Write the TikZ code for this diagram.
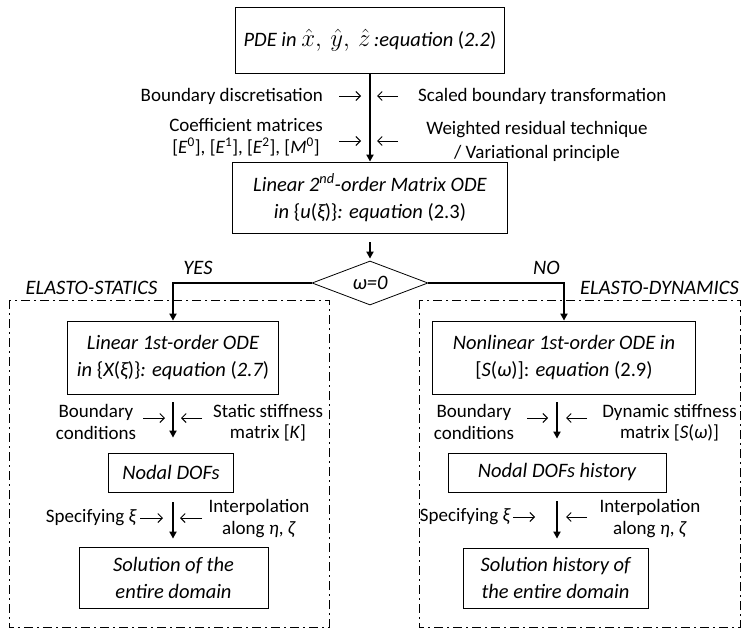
\documentclass[tikz,border=0pt]{standalone}
\usepackage{fontspec}
\setmainfont{Carlito}
\usetikzlibrary{shapes.geometric,arrows.meta}
\tikzset{
  x=1pt, y=-1pt,
  box/.style={draw, line width=0.8pt, inner sep=0pt, align=center,
    font=\fontsize{20.5}{27}\selectfont\itshape},
  lbl/.style={inner sep=0pt, align=center, font=\fontsize{19}{21.5}\selectfont},
  itlbl/.style={inner sep=0pt, font=\fontsize{20.5}{24}\selectfont\itshape},
  flow/.style={line width=2pt, -{Triangle[length=7pt,width=7pt]}},
  thinarrow/.style={line width=1pt, -{Straight Barb[length=4.5pt,width=9pt]}},
  region/.style={line width=1pt, dash pattern=on 9pt off 4pt on 2pt off 4pt},
}
\newcommand{\up}[1]{{\upshape #1}}
\begin{document}
\begin{tikzpicture}
\useasboundingbox (0,0) rectangle (745,629);

% frames
\draw[region] (9,300) rectangle (329,627);
\draw[region] (419,300) rectangle (740,627);

% main boxes
\node[box, minimum width=269pt, minimum height=66pt] (pde) at (370,40)
  {PDE in {\fontsize{24}{24}\selectfont$\hat{x},\,\hat{y},\,\hat{z}$}\,:equation \up{(}2.2\up{)}};
\node[box, minimum width=275pt, minimum height=71pt] (ode2) at (370,197.5)
  {Linear 2\textsuperscript{nd}-order Matrix ODE\\in \up{\{}u\up{(}ξ\up{)\}}: equation \up{(2.3)}};
\node[draw, diamond, line width=0.8pt, minimum width=116pt, minimum height=44pt, inner sep=0pt] (dec) at (370,283) {};
\node[itlbl] (declbl) at (dec) {ω=0};

% left column
\node[box, minimum width=211pt, minimum height=73pt] (lb1) at (173,357.5)
  {Linear 1st-order ODE\\in \up{\{}X\up{(}ξ\up{)\}}: equation \up{(}2.7\up{)}};
\node[box, minimum width=125pt, minimum height=39pt] (ln) at (171,472.5) {Nodal DOFs};
\node[box, minimum width=189pt, minimum height=61pt] (ls) at (173.5,577.5) {Solution of the\\entire domain};

% right column
\node[box, minimum width=263pt, minimum height=73pt] (rb1) at (564,357.5)
  {Nonlinear 1st-order ODE in\\\up{[}S\up{(}ω\up{)]:} equation \up{(2.9)}};
\node[box, minimum width=218pt, minimum height=39pt] (rn) at (557,472.5) {Nodal DOFs history};
\node[box, minimum width=185pt, minimum height=60pt] (rs) at (555.5,578) {Solution history of\\the entire domain};

% main connectors
\draw[flow] (pde) -- (ode2);
\draw[flow, shorten <=9pt, shorten >=2pt] (ode2.south) -- (dec.north);
\draw[flow] (dec.west) -| (lb1.north);
\draw[flow] (dec.east) -| (rb1.north);
\draw[flow, shorten <=8pt, shorten >=15pt] (lb1.south) -- (lb1.south |- ln.north);
\draw[flow, shorten <=10pt, shorten >=8pt] (lb1.south |- ln.south) -- (lb1.south |- ls.north);
\draw[flow, shorten <=8pt, shorten >=14pt] (rb1.south -| rn.north) -- (rn.north);
\draw[flow, shorten <=9pt, shorten >=9pt] (rn.south) -- (rn.south |- rs.north);

% branch labels
\node[itlbl] (yes) at (198,268) {YES};
\node[itlbl] (no) at (546.5,268) {NO};
\node[itlbl] (stat) at (91.5,288) {ELASTO-STATICS};
\node[itlbl] (dyn) at (659.5,288) {ELASTO-DYNAMICS};

% top side labels
\node[lbl, anchor=east] (bd) at (323,96) {Boundary discretisation};
\node[lbl, anchor=west] (sbt) at (418,96) {Scaled boundary transformation};
\node[lbl] (cm) at (246,137) {Coefficient matrices\\{}[\textit{E}\textsuperscript{0}], [\textit{E}\textsuperscript{1}], [\textit{E}\textsuperscript{2}], [\textit{M}\textsuperscript{0}]};
\node[lbl, font=\fontsize{19}{24}\selectfont] (wrt) at (537,141) {Weighted residual technique\\/ Variational principle};
\coordinate (a1s) at (339,96); \coordinate (a1e) at (361,96);
\coordinate (a2s) at (398,96); \coordinate (a2e) at (377,96);
\coordinate (a3s) at (339,141); \coordinate (a3e) at (361,141);
\coordinate (a4s) at (398,141); \coordinate (a4e) at (377,141);
\draw[thinarrow] (a1s) -- (a1e);
\draw[thinarrow] (a2s) -- (a2e);
\draw[thinarrow] (a3s) -- (a3e);
\draw[thinarrow] (a4s) -- (a4e);

% left column labels
\node[lbl] (lbc) at (96,422) {Boundary\\conditions};
\node[lbl] (lss) at (268,422.5) {Static stiffness\\matrix [\textit{K}]};
\node[lbl, anchor=east] (lsp) at (137,518) {Specifying \textit{ξ}};
\node[lbl] (lip) at (259,518.5) {Interpolation\\along \textit{η}, \textit{ζ}};
\coordinate (b1s) at (143,418); \coordinate (b1e) at (165,418);
\coordinate (b2s) at (202,418); \coordinate (b2e) at (181,418);
\coordinate (b3s) at (140,518); \coordinate (b3e) at (163,518);
\coordinate (b4s) at (202,518); \coordinate (b4e) at (180,518);
\draw[thinarrow] (b1s) -- (b1e);
\draw[thinarrow] (b2s) -- (b2e);
\draw[thinarrow] (b3s) -- (b3e);
\draw[thinarrow] (b4s) -- (b4e);

% right column labels
\node[lbl] (rbc) at (474,422) {Boundary\\conditions};
\node[lbl] (rds) at (669.5,422.5) {Dynamic stiffness\\matrix [\textit{S}(\textit{ω})]};
\node[lbl, anchor=east] (rsp) at (511,517) {Specifying \textit{ξ}};
\node[lbl] (rip) at (650,518.5) {Interpolation\\along \textit{η}, \textit{ζ}};
\coordinate (c1s) at (527,418); \coordinate (c1e) at (548,418);
\coordinate (c2s) at (587,418); \coordinate (c2e) at (566,418);
\coordinate (c3s) at (513,517); \coordinate (c3e) at (535,517);
\coordinate (c4s) at (587,517); \coordinate (c4e) at (566,517);
\draw[thinarrow] (c1s) -- (c1e);
\draw[thinarrow] (c2s) -- (c2e);
\draw[thinarrow] (c3s) -- (c3e);
\draw[thinarrow] (c4s) -- (c4e);
\end{tikzpicture}
\end{document}
